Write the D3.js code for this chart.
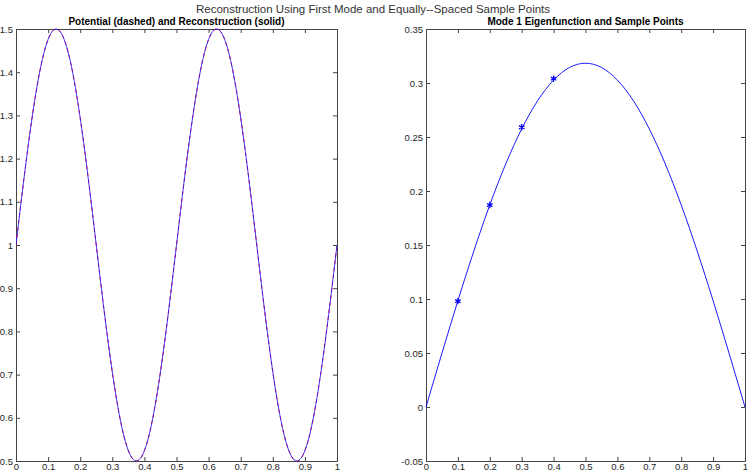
<!DOCTYPE html>
<html><head><meta charset="utf-8">
<script src="https://cdn.jsdelivr.net/npm/d3@7"></script>
<style>body{margin:0;background:#fff}svg{display:block}text{font-family:"Liberation Sans",Arial,sans-serif}</style>
</head><body><svg id="c" width="747" height="474"></svg>
<script>
// Left panel: potential / reconstruction
const leftX = [0,0.025,0.05,0.075,0.1,0.125,0.15,0.175,0.2,0.225,0.25,0.275,0.3,0.325,0.35,0.375,0.4,0.425,0.45,0.475,0.5,0.525,0.55,0.575,0.6,0.625,0.65,0.675,0.7,0.725,0.75,0.775,0.8,0.825,0.85,0.875,0.9,0.925,0.95,0.975,1];
const potential = [1,1.155,1.294,1.405,1.476,1.5,1.476,1.405,1.294,1.155,1,0.845,0.706,0.595,0.524,0.5,0.524,0.595,0.706,0.845,1,1.155,1.294,1.405,1.476,1.5,1.476,1.405,1.294,1.155,1,0.845,0.706,0.595,0.524,0.5,0.524,0.595,0.706,0.845,1];
const reconstruction = [1,1.155,1.294,1.405,1.476,1.5,1.476,1.405,1.294,1.155,1,0.845,0.706,0.595,0.524,0.5,0.524,0.595,0.706,0.845,1,1.155,1.294,1.405,1.476,1.5,1.476,1.405,1.294,1.155,1,0.845,0.706,0.595,0.524,0.5,0.524,0.595,0.706,0.845,1];
// Right panel: mode 1 eigenfunction
const modeX = [0,0.05,0.1,0.15,0.2,0.25,0.3,0.35,0.4,0.45,0.5,0.55,0.6,0.65,0.7,0.75,0.8,0.85,0.9,0.95,1];
const modeY = [0,0.0498,0.0984,0.1445,0.1871,0.2251,0.2575,0.2836,0.3027,0.3144,0.3183,0.3144,0.3027,0.2836,0.2575,0.2251,0.1871,0.1445,0.0984,0.0498,0];
const sampleX = [0.1,0.2,0.3,0.4];
const sampleY = [0.098,0.187,0.259,0.304];
const xTicks = [0,0.1,0.2,0.3,0.4,0.5,0.6,0.7,0.8,0.9,1];
const leftYTicks = [0.5,0.6,0.7,0.8,0.9,1,1.1,1.2,1.3,1.4,1.5];
const rightYTicks = [-0.05,0,0.05,0.1,0.15,0.2,0.25,0.3,0.35];
const suptitle = "Reconstruction Using First Mode and Equally--Spaced Sample Points";
const leftTitle = "Potential (dashed) and Reconstruction (solid)";
const rightTitle = "Mode 1 Eigenfunction and Sample Points";

const svg = d3.select("#c");
const fmt = d => String(+d.toFixed(2));

svg.append("text").attr("x",373).attr("y",13).attr("text-anchor","middle")
  .attr("font-size",11.5).attr("fill","#333").text(suptitle);

function panel(x0,x1,yDom,yTicks,title){
  const x = d3.scaleLinear().domain([0,1]).range([x0,x1]);
  const y = d3.scaleLinear().domain(yDom).range([461,29]);
  const g = svg.append("g");
  const tl = 4;
  const col = "#444";
  const ax = d3.axisBottom(x).tickValues(xTicks).tickFormat(fmt).tickSizeInner(-tl).tickSizeOuter(0).tickPadding(2);
  const gb = g.append("g").attr("transform",`translate(0,${y.range()[0]})`).call(ax);
  const ay = d3.axisLeft(y).tickValues(yTicks).tickFormat(fmt).tickSizeInner(-tl).tickSizeOuter(0).tickPadding(3);
  const gl = g.append("g").attr("transform",`translate(${x0},0)`).call(ay);
  const at = d3.axisTop(x).tickValues(xTicks).tickFormat("").tickSizeInner(-tl).tickSizeOuter(0);
  const gt = g.append("g").attr("transform",`translate(0,29)`).call(at);
  const ar = d3.axisRight(y).tickValues(yTicks).tickFormat("").tickSizeInner(-tl).tickSizeOuter(0);
  const gr = g.append("g").attr("transform",`translate(${x1},0)`).call(ar);
  [gb,gl,gt,gr].forEach(s=>{
    s.select(".domain").attr("stroke",col);
    s.selectAll(".tick line").attr("stroke",col);
    s.selectAll(".tick text").attr("fill","#262626").attr("font-size",9.5).attr("font-family","Liberation Sans, Arial, sans-serif");
  });
  g.append("text").attr("x",(x0+x1)/2).attr("y",25).attr("text-anchor","middle")
    .attr("font-size",10).attr("font-weight","bold").attr("fill","#000").text(title);
  return {x,y,g};
}

const L = panel(16,337,[0.5,1.5],leftYTicks,leftTitle);
const R = panel(426,745,[-0.05,0.35],rightYTicks,rightTitle);

svg.append("clipPath").attr("id","cl").append("rect").attr("x",16).attr("y",28).attr("width",321).attr("height",434);
const lineL = (ys)=>d3.line().x((d,i)=>L.x(leftX[i])).y(d=>L.y(d)).curve(d3.curveNatural)(ys);
svg.append("path").attr("d",lineL(potential)).attr("fill","none").attr("stroke","#ff0000")
  .attr("stroke-width",1).attr("stroke-dasharray","4,3").attr("clip-path","url(#cl)");
svg.append("path").attr("d",lineL(reconstruction)).attr("fill","none").attr("stroke","#2a1cff")
  .attr("stroke-opacity",0.85).attr("stroke-width",1).attr("clip-path","url(#cl)");

const lineR = d3.line().x((d,i)=>R.x(modeX[i])).y(d=>R.y(d)).curve(d3.curveNatural);
svg.append("path").attr("d",lineR(modeY)).attr("fill","none").attr("stroke","#0000ff").attr("stroke-width",0.9);

const star = d3.symbol().type(d3.symbolAsterisk).size(28);
svg.append("g").selectAll("path").data(sampleX).join("path")
  .attr("transform",(d,i)=>`translate(${R.x(d)},${R.y(sampleY[i])})`)
  .attr("d",star).attr("fill","none").attr("stroke","#0000ff").attr("stroke-width",1.3);
</script>
</body></html>
